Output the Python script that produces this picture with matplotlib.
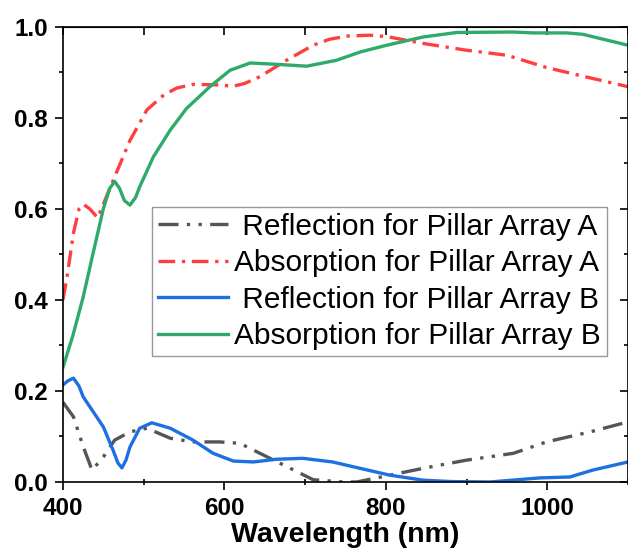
import matplotlib
matplotlib.use("Agg")
import matplotlib.pyplot as plt
from matplotlib.ticker import MultipleLocator

plt.rcParams['font.family'] = ['Liberation Sans', 'DejaVu Sans']

# Reflection A (grey dash-dot-dot)
wl_ra = [400, 413, 425, 436, 450, 464, 483, 504, 533, 561, 594, 619, 644, 677, 710, 747, 764,
         805, 846, 900, 958, 999, 1053, 1100]
ref_a = [0.175, 0.143, 0.078, 0.026, 0.055, 0.092, 0.110, 0.118, 0.096, 0.088, 0.088, 0.085,
         0.063, 0.034, 0.005, 0.0, 0.0, 0.015, 0.030, 0.048, 0.063, 0.088, 0.110, 0.132]

# Absorption A (red dash-dot)
wl_aa = [400, 405, 413, 420, 425, 433, 443, 464, 483, 504, 525, 541, 561, 590, 611, 625, 644,
         677, 710, 730, 752, 780, 801, 846, 900, 950, 999, 1049, 1100]
abs_a = [0.40, 0.45, 0.547, 0.60, 0.61, 0.60, 0.58, 0.67, 0.75, 0.817, 0.850, 0.865, 0.873,
         0.872, 0.869, 0.875, 0.89, 0.926, 0.959, 0.972, 0.979, 0.981, 0.978, 0.963, 0.948,
         0.937, 0.91, 0.889, 0.868]

# Reflection B (blue)
wl_rb = [400, 406, 413, 420, 425, 436, 450, 462, 468, 473, 478, 483, 495, 510, 533, 561, 586,
         611, 636, 665, 697, 734, 768, 805, 846, 880, 929, 991, 1028, 1056, 1100]
ref_b = [0.213, 0.222, 0.228, 0.210, 0.187, 0.158, 0.121, 0.070, 0.042, 0.031, 0.048, 0.077,
         0.118, 0.130, 0.118, 0.092, 0.063, 0.046, 0.044, 0.050, 0.052, 0.044, 0.030, 0.015,
         0.004, 0.001, 0.0, 0.009, 0.011, 0.026, 0.044]

# Absorption B (green)
wl_ab = [400, 412, 425, 437, 450, 458, 464, 470, 476, 483, 490, 495, 512, 533, 553, 582, 607,
         632, 665, 702, 739, 768, 801, 846, 888, 958, 982, 1024, 1044, 1100]
abs_b = [0.252, 0.32, 0.406, 0.50, 0.60, 0.645, 0.66, 0.645, 0.618, 0.608, 0.625, 0.648,
         0.714, 0.773, 0.82, 0.868, 0.904, 0.92, 0.917, 0.913, 0.926, 0.944, 0.959, 0.977,
         0.987, 0.988, 0.986, 0.986, 0.983, 0.959]

labels = [" Reflection for Pillar Array A", "Absorption for Pillar Array A",
          " Reflection for Pillar Array B", "Absorption for Pillar Array B"]

fig = plt.figure(figsize=(6.28, 5.53), dpi=100)
ax = fig.add_axes([0.1003, 0.1284, 0.8997, 0.8236])

lw = 2.4
ax.plot(wl_ra, ref_a, color='#555555', lw=lw, dashes=(6, 2.5, 1, 2.5, 1, 2.5), label=labels[0])
ax.plot(wl_aa, abs_a, color='#FF3F3F', lw=lw, dashes=(5, 2, 1, 2), label=labels[1])
ax.plot(wl_rb, ref_b, color='#1E6FE0', lw=lw, label=labels[2])
ax.plot(wl_ab, abs_b, color='#2EAA6A', lw=lw, label=labels[3])

ax.set_xlim(400, 1100)
ax.set_ylim(0, 1.0)
ax.xaxis.set_major_locator(MultipleLocator(200))
ax.xaxis.set_minor_locator(MultipleLocator(100))
ax.yaxis.set_major_locator(MultipleLocator(0.2))
ax.yaxis.set_minor_locator(MultipleLocator(0.1))
ax.yaxis.set_major_formatter(plt.FormatStrFormatter('%.1f'))

ax.tick_params(which='both', direction='out', width=1.2, top=False, right=False)
ax.tick_params(which='major', length=6, labelsize=17.5, pad=5)
ax.tick_params(which='minor', length=3)
ax.tick_params(axis='x', which='minor', direction='inout', length=5)
# mirrored ticks pointing in on top and right
sec_x = ax.secondary_xaxis('top')
sec_x.xaxis.set_major_locator(MultipleLocator(100))
sec_x.tick_params(direction='in', length=6, width=1.2, labeltop=False)
sec_y = ax.secondary_yaxis('right')
sec_y.yaxis.set_major_locator(MultipleLocator(0.2))
sec_y.yaxis.set_minor_locator(MultipleLocator(0.1))
sec_y.tick_params(which='major', direction='in', length=6, width=1.2, labelright=False)
sec_y.tick_params(which='minor', direction='in', length=3, width=1.2)
for lab in ax.get_xticklabels() + ax.get_yticklabels():
    lab.set_fontweight('bold')
for sp in ax.spines.values():
    sp.set_linewidth(1.2)

ax.set_xlabel("Wavelength (nm)", fontsize=20.5, fontweight='bold', labelpad=1)

leg = ax.legend(loc='upper left', bbox_to_anchor=(0.1575, 0.604), fontsize=21.5,
                frameon=True, fancybox=False, edgecolor='#999999', framealpha=1,
                handlelength=2.35, handletextpad=0.2, borderpad=0.2, labelspacing=0.28,
                borderaxespad=0)
leg.get_frame().set_linewidth(1.0)

fig.savefig("out.png", dpi=100)
